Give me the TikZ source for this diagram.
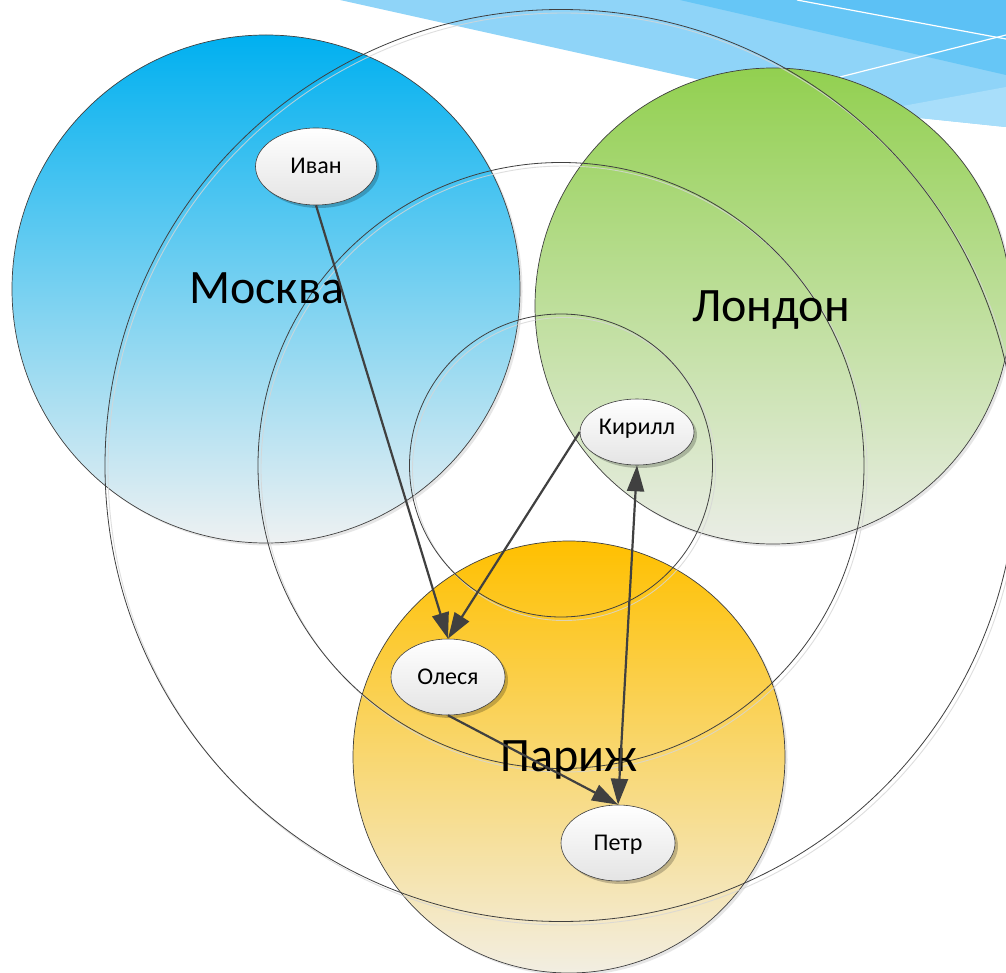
\documentclass[tikz,border=0pt]{standalone}
\usepackage{fontspec}
\setmainfont{Carlito}
\usetikzlibrary{arrows.meta,shapes.geometric,shadows}
\definecolor{lineg}{HTML}{404040}
\definecolor{banA}{HTML}{8FD4F8}
\definecolor{banB}{HTML}{A8DEFA}
\definecolor{banC}{HTML}{66C6F6}
\definecolor{banD}{HTML}{5CC1F5}
\definecolor{mosT}{HTML}{00B0F0}
\definecolor{mosB}{HTML}{EEF1F2}
\definecolor{lonT}{HTML}{92D050}
\definecolor{lonB}{HTML}{EAEDE6}
\definecolor{parT}{HTML}{FFC000}
\definecolor{parB}{HTML}{F2EEE2}
\definecolor{nodeB}{HTML}{E4E4E4}
\definecolor{shad}{HTML}{D6D6D6}
\begin{document}
\begin{tikzpicture}[x=1pt,y=-1pt,
  city/.style={circle, draw=lineg, line width=0.7pt, inner sep=0pt, minimum size=#1,
    drop shadow={shadow xshift=2.5pt, shadow yshift=-2.5pt, fill=shad, opacity=0.6}},
  ring/.style={circle, draw=lineg, line width=0.8pt, inner sep=0pt, minimum size=#1},
  ringshadow/.style={circle, draw=shad, line width=0.9pt, inner sep=0pt, minimum size=#1, opacity=0.8},
  person/.style={ellipse, draw=lineg, line width=0.6pt, inner sep=0pt,
    top color=white, bottom color=nodeB, font=\fontsize{24}{26}\selectfont,
    text height=14.8pt, text depth=0pt,
    drop shadow={shadow xshift=3pt, shadow yshift=-3pt, opacity=0.22, fill=black}},
  cityname/.style={font=\fontsize{48}{50}\selectfont, anchor=base, inner sep=0pt},
  link/.style={draw=lineg, line width=2.2pt, -{Triangle[length=26pt,width=17pt]}},
  dlink/.style={draw=lineg, line width=2.2pt, {Triangle[length=26pt,width=17pt]}-{Triangle[length=26pt,width=17pt]}},
]
\useasboundingbox (0,0) rectangle (1006,973);
\fill[white] (0,0) rectangle (1006,973);
% banner
\fill[banA] (340,0) -- (1006,0) -- (1006,127) -- (920,118) -- (700,80) -- cycle;
\fill[banB] (870,112) -- (1006,87) -- (1006,127) -- (920,118) -- cycle;
\fill[banC] (680,0) -- (1006,0) -- (1006,75) -- cycle;
\fill[banD] (797,0) -- (1006,0) -- (1006,39) -- cycle;
\draw[white, line width=1.2pt] (797,0) -- (1006,39);
\draw[white, line width=1.2pt] (840,77) -- (1006,35);
% city circles
\node[city=508pt, top color=mosT, bottom color=mosB] (moscow) at (266,289) {};
\node[city=476pt, top color=lonT, bottom color=lonB] (london) at (773,306) {};
\node[city=432pt, top color=parT, bottom color=parB] (paris) at (569,757) {};
% rings
\node[ringshadow=912pt] (bigsh) at (564,469) {};
\node[ringshadow=606pt] (midsh) at (564,469) {};
\node[ringshadow=303pt] (smallsh) at (564,469) {};
\node[ring=912pt] (big) at (561,465.5) {};
\node[ring=606pt] (mid) at (561,465.5) {};
\node[ring=303pt] (small) at (561,465.5) {};
% city names
\node[cityname] (lmos) at (266.7,303.3) {Москва};
\node[cityname] (llon) at (771,321.7) {Лондон};
\node[cityname] (lpar) at (569,771.7) {Париж};
% persons
\node[person, minimum width=121pt, minimum height=77pt] (ivan) at (316,166.5) {Иван};
\node[person, minimum width=114pt, minimum height=66pt, text depth=9pt] (kirill) at (637,432) {Кирилл};
\node[person, minimum width=114pt, minimum height=76pt] (olesya) at (448,677) {Олеся};
\node[person, minimum width=114pt, minimum height=76pt] (petr) at (618,843) {Петр};
% links
\draw[link] (ivan.south) -- (olesya.north);
\draw[link] (kirill.west) -- (olesya.north);
\draw[link] (olesya.south) -- (petr.north);
\draw[dlink] (petr.north) -- (kirill.south);
\end{tikzpicture}
\end{document}
